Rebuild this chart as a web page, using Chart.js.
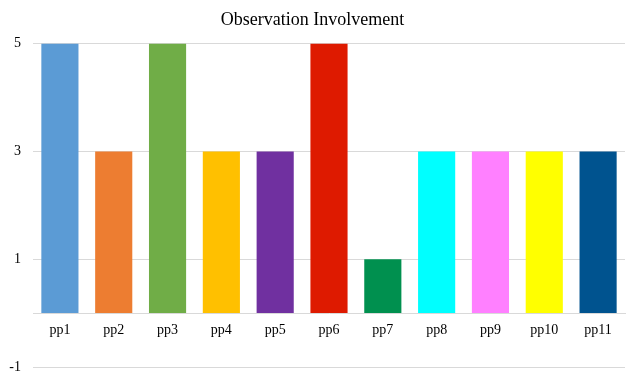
<!DOCTYPE html>
<html>
<head>
<meta charset="utf-8">
<script src="https://cdn.jsdelivr.net/npm/chart.js@4"></script>
<style>
  html, body { margin: 0; padding: 0; background: #ffffff; }
  #wrap { width: 626px; height: 372px; }
</style>
</head>
<body>
<div id="wrap"><canvas id="c" width="626" height="372"></canvas></div>
<script>
// Participants and their observation involvement scores
const participants = ['pp1', 'pp2', 'pp3', 'pp4', 'pp5', 'pp6', 'pp7', 'pp8', 'pp9', 'pp10', 'pp11'];
const involvement = [5, 3, 5, 3, 3, 5, 1, 3, 3, 3, 3];
const barColors = ['#5B9BD5', '#ED7D31', '#70AD47', '#FFC000', '#7030A0', '#DE1A00',
                   '#00904F', '#00FFFF', '#FF80FF', '#FFFF00', '#00538F'];
const yTicks = [-1, 1, 3, 5];

const serif = '"Liberation Serif", "Times New Roman", serif';

new Chart(document.getElementById('c'), {
  type: 'bar',
  data: {
    labels: participants,
    datasets: [{
      data: involvement,
      backgroundColor: barColors,
      borderWidth: 0,
      barPercentage: 0.69,
      categoryPercentage: 1.0
    }]
  },
  options: {
    responsive: false,
    animation: false,
    layout: { padding: { top: 0, right: 1, bottom: 5, left: 0 } },
    plugins: {
      legend: { display: false },
      tooltip: { enabled: false },
      title: {
        display: true,
        text: 'Observation Involvement',
        color: '#000000',
        font: { family: serif, size: 18, weight: 'normal' },
        padding: { top: 9, bottom: 13 }
      }
    },
    scales: {
      x: {
        position: { y: 0 },
        grid: { display: false },
        border: { display: true, color: '#d9d9d9', width: 1 },
        ticks: {
          color: '#000000',
          font: { family: serif, size: 14 },
          padding: 1,
          maxRotation: 0
        }
      },
      y: {
        min: -1,
        max: 5,
        afterBuildTicks: (scale) => { scale.ticks = yTicks.map(v => ({ value: v })); },
        afterFit: (scale) => {
          scale.width = 33;
          scale.paddingTop = 0;
          scale.paddingBottom = 0;
        },
        grid: { color: '#d9d9d9', lineWidth: 1, drawTicks: false },
        border: { display: false },
        ticks: {
          color: '#000000',
          font: { family: serif, size: 14 },
          padding: 12
        }
      }
    }
  }
});
</script>
</body>
</html>
